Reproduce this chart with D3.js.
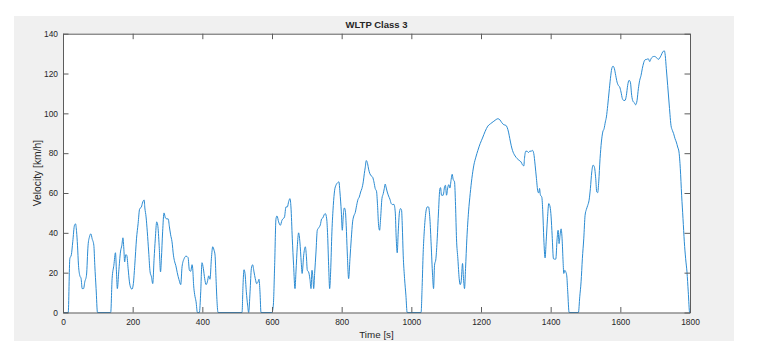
<!DOCTYPE html>
<html>
<head>
<meta charset="utf-8">
<script src="https://cdn.jsdelivr.net/npm/d3@7"></script>
<style>
  html, body { margin: 0; padding: 0; background: #ffffff; }
  svg { display: block; }
  text { font-family: "Liberation Sans", Arial, Helvetica, sans-serif; fill: #262626; }
</style>
</head>
<body>
<svg id="chart" width="775" height="355"></svg>
<script>
const chartTitle = "WLTP Class 3";
const xLabel = "Time [s]";
const yLabel = "Velocity [km/h]";
const xTicks = [0, 200, 400, 600, 800, 1000, 1200, 1400, 1600, 1800];
const yTicks = [0, 20, 40, 60, 80, 100, 120, 140];

const time = [
  0, 15, 19.6, 24, 28, 33, 36, 39, 41.6, 44.5, 48, 52, 55, 59, 62.6, 67.4, 72, 76, 80, 83.7,
  88.5, 91.3, 95, 99, 137, 141, 146, 150.6, 153.5, 156, 160, 165, 169, 172, 174.5, 177, 180, 183, 187, 190.7,
  194.5, 198, 202, 206, 211, 215.6, 220, 225, 229, 233, 235, 238.5, 242, 246, 250, 254, 257.6, 261.5, 265, 269,
  272, 276, 280, 282.5, 286, 290, 294, 298, 302, 305.5, 309, 313, 317, 320.7, 324, 328, 333, 338, 341.8, 347.6,
  353.3, 359, 362.9, 366.7, 370.5, 372.4, 375, 378, 382, 385.8, 391.5, 395.4, 399, 403, 406.8, 410.7, 414.5, 418.3, 422, 426,
  429.8, 433.6, 436.5, 439.3, 442.2, 445, 514, 516.8, 519.6, 522.5, 526.3, 530, 533, 537, 540.7, 544.5, 548.3, 552, 556, 560,
  562.7, 565.5, 568.4, 600, 603.8, 607.6, 611.4, 614.3, 619, 624, 628.6, 636, 640, 644, 648, 651.6, 654.4, 658.3, 662, 666,
  668.8, 672.6, 676.4, 680, 684, 686.5, 691, 695.7, 698.5, 701.4, 705, 709, 712, 714.8, 717.7, 719.6, 722.4, 726.3, 730, 734,
  738.7, 742.5, 746, 750, 753, 757, 759.7, 762.6, 765.5, 768.3, 772, 776, 779.8, 783.6, 788.4, 792, 795, 799, 801.8, 804.7,
  807.5, 810.4, 813, 816, 820, 823.8, 827.6, 831.4, 835, 839, 843, 846.7, 850.6, 854.4, 858, 862, 865, 867.8, 870.6, 874.5,
  877.3, 881, 885, 888.8, 892.6, 896.4, 900, 903, 906, 908.9, 911.7, 915.6, 919.4, 922.3, 925, 928, 930.9, 934.7, 938.5, 942.3,
  946, 950, 953.8, 956.7, 959.5, 962.4, 966, 969, 972, 974, 976.7, 980.6, 984.4, 988, 1028, 1031, 1034, 1037, 1041.8, 1045.6,
  1049.4, 1053.3, 1057, 1061, 1063.8, 1066.6, 1070.5, 1074.3, 1078, 1082, 1083.9, 1086.7, 1091.5, 1095.3, 1098, 1101, 1104.9, 1107.8, 1110.6, 1114.4,
  1117.3, 1120, 1124, 1126.9, 1129.7, 1133.6, 1137.4, 1140.3, 1143, 1147, 1149.8, 1152.7, 1155.6, 1159.4, 1164.2, 1169, 1173.7, 1179.5, 1185.2, 1191,
  1197.6, 1204.3, 1212, 1219.6, 1227.3, 1234.9, 1242.6, 1248.3, 1254, 1259.8, 1265.5, 1271.3, 1275, 1279, 1282.7, 1286.5, 1290.4, 1294, 1298, 1303.7,
  1309.5, 1315, 1319, 1322.9, 1324.8, 1328.6, 1332.4, 1336.2, 1340, 1344, 1347.7, 1351.5, 1355.4, 1359.2, 1363, 1365.9, 1368, 1370.6, 1374.5, 1377.4,
  1380.3, 1384, 1387, 1390.8, 1394.6, 1398.4, 1401.3, 1404.2, 1408, 1410.8, 1414.7, 1418.5, 1421.4, 1424.2, 1427, 1430, 1432.8, 1435.7, 1437.6, 1440.5,
  1443.4, 1446.2, 1449, 1453, 1479.7, 1483.5, 1487.3, 1491, 1495, 1498.8, 1502.6, 1506.4, 1510.3, 1514, 1518, 1521.7, 1525.6, 1529.4, 1532.3, 1535,
  1538, 1541.8, 1545.6, 1549.5, 1553.3, 1557, 1560, 1563.8, 1567.6, 1571.5, 1575.3, 1579, 1583, 1586.8, 1590.6, 1594.4, 1598.2, 1602, 1605.9, 1609.7,
  1613.5, 1617.3, 1621, 1625, 1628.8, 1632.6, 1636.5, 1640, 1644, 1648, 1651.8, 1655.6, 1659.4, 1663, 1667, 1670.9, 1675.7, 1680.4, 1684.3, 1688,
  1692, 1697.6, 1703.4, 1709, 1713, 1716.8, 1721.5, 1726.3, 1729, 1732, 1735.9, 1739.7, 1742.6, 1745.4, 1749.3, 1753, 1757, 1760.7, 1764.6, 1768.4,
  1772.2, 1776, 1779.9, 1783.7, 1787.5, 1791.3, 1795, 1799, 1800
];

const velocity = [
  0, 0, 27, 29, 35.5, 43.8, 44.5, 40.5, 33.8, 23.7, 18.7, 17, 12, 12, 15.4, 18.7, 33.8, 38, 39.5, 37,
  33.8, 23.7, 12, 0, 0, 17, 23.7, 30, 20.4, 12, 20.4, 30.4, 33.8, 37.5, 32.4, 25.4, 29, 28.8, 22, 15.4,
  12.4, 11.7, 14.5, 23.7, 37, 44.6, 52, 53, 55.5, 56.5, 52.5, 48, 40.5, 30.4, 20.4, 17.9, 14.5, 27, 37, 45.5,
  43.8, 33.8, 20.4, 27, 40.5, 50, 47.5, 47, 47, 43, 39, 35.5, 28.8, 25.4, 23.5, 20, 16.5, 14, 23, 27,
  28.3, 27.6, 21.2, 20.7, 24, 22, 13.7, 9, 5.4, 0, 0, 10.4, 25, 22, 17, 14, 15.4, 18.4, 16.7, 27,
  33, 31.3, 28.8, 17, 5.4, 0, 0, 13.7, 21.5, 19.6, 10.4, 3.7, 0, 10.4, 22, 24, 20.4, 17, 14.5, 15.4,
  16.7, 10.4, 0, 0, 3.7, 23.7, 47, 48.5, 45.5, 43.8, 46.3, 48, 53, 53, 55.8, 57.2, 53, 37, 23.7, 12,
  20.4, 33, 40, 35.5, 25, 19.6, 28.8, 33, 28.8, 21.2, 20.4, 16.7, 12, 21.2, 17, 12, 19.6, 30.4, 41.3, 42.5,
  44, 47, 47.5, 49.2, 49.7, 47, 38.8, 23.7, 12, 20.4, 40.5, 53.8, 61.4, 63.9, 65.2, 65.6, 60.5, 50.5, 41.3, 48.8,
  52.5, 51.3, 43.8, 30.4, 17, 27, 37, 45.5, 48.5, 50.2, 53.8, 56.7, 58, 60.5, 62.2, 65.6, 69.7, 73, 76.3, 74.7,
  72, 69.7, 68.6, 68, 65.6, 62.2, 60.9, 53.8, 43.8, 41.3, 47, 57.2, 59.7, 62.2, 64.5, 62.5, 60.5, 58.5, 56.9, 54.7,
  54.2, 54.3, 50.5, 37, 30, 40.5, 50.5, 52.2, 51.3, 43.8, 28.8, 17, 8.7, 0, 0, 13, 30, 40.5, 50.5, 53,
  53, 47, 33.8, 18.7, 12, 23.7, 27, 37, 50.5, 62.2, 62.7, 58.9, 58.9, 63, 63.9, 58.9, 63, 64.2, 62.5, 66.9,
  69.4, 66.9, 65.6, 53.8, 37, 27, 17, 14, 15.4, 24.6, 17, 12, 22, 37, 50.5, 59.7, 67.2, 74, 78, 81.4,
  84.8, 87.6, 91, 93.6, 94.8, 95.8, 96.8, 97.3, 96.8, 95.3, 94.3, 94, 93, 90.6, 87.3, 84, 81.4, 79.8, 78.6, 77.3,
  76.4, 75.6, 74.2, 73.6, 77.3, 81, 81, 80.3, 81, 81, 81.4, 79.8, 74, 67.2, 61, 60, 62.3, 59, 58, 50.5,
  37, 27.4, 35.5, 47, 54.7, 53, 48, 38.8, 27, 26.8, 26.8, 37, 41.3, 34.6, 38.8, 42, 37, 25.4, 19.6, 21.2,
  20.4, 18.4, 10.4, 0, 0, 7.9, 15.4, 27, 37, 48.8, 51.8, 53.8, 56.4, 62.2, 70.6, 74, 73, 67.2, 60.5, 60.2,
  65.6, 77.3, 85.6, 90.6, 92.3, 95.7, 98.2, 104, 110.7, 117.4, 122.4, 123.7, 122.4, 119, 115.7, 114, 113.2, 110.7, 107.4, 106.5,
  106.5, 109, 114, 116.6, 115.7, 109, 106, 105.4, 104.3, 106.5, 112.4, 116.6, 119, 122.4, 125.4, 126.9, 127.1, 127.4, 126, 127.4,
  128.3, 128.6, 128.1, 127.1, 127.8, 129, 130.8, 131.4, 129, 122.4, 114, 105.7, 99.3, 94, 91.5, 89.8, 87.3, 85.6, 83.1, 80.6,
  72.2, 58.9, 47.2, 35.5, 27, 20.4, 10.4, 0, 0
];

const data = time.map((t, i) => ({ t: t, v: velocity[i] }));

const svg = d3.select("#chart");
const W = 775, H = 355;
const plot = { left: 63, right: 690, top: 33.7, bottom: 312.5 };

// figure panel
svg.append("rect").attr("x", 14).attr("y", 16).attr("width", 720).attr("height", 325).attr("fill", "#f0f0f0");
svg.append("rect").attr("x", plot.left).attr("y", plot.top)
  .attr("width", plot.right - plot.left).attr("height", plot.bottom - plot.top).attr("fill", "#ffffff");

const x = d3.scaleLinear().domain([0, 1800]).range([plot.left, plot.right]);
const y = d3.scaleLinear().domain([0, 140]).range([plot.bottom, plot.top]);

const axisColor = "#5c5c5c";
const tickFont = 8.4;

function styleAxis(g) {
  g.selectAll("path.domain").attr("stroke", axisColor).attr("stroke-width", 1);
  g.selectAll(".tick line").attr("stroke", axisColor).attr("stroke-width", 1);
  g.selectAll(".tick text").style("font-size", tickFont + "px").attr("fill", "#262626")
    .style("font-family", '"Liberation Sans", Arial, sans-serif');
}

// line
const line = d3.line().x(d => x(d.t)).y(d => y(d.v)).curve(d3.curveMonotoneX);
svg.append("path").datum(data)
  .attr("d", line)
  .attr("fill", "none")
  .attr("stroke", "#2b8bd2")
  .attr("stroke-width", 1)
  .attr("stroke-linejoin", "round");

// axes
svg.append("g").attr("transform", `translate(0,${plot.bottom})`)
  .call(d3.axisBottom(x).tickValues(xTicks).tickFormat(d3.format("d")).tickSizeInner(-5.5).tickSizeOuter(0).tickPadding(7))
  .call(styleAxis);
svg.append("g").attr("transform", `translate(0,${plot.top})`)
  .call(d3.axisTop(x).tickValues(xTicks).tickFormat("").tickSizeInner(-5.5).tickSizeOuter(0))
  .call(styleAxis);
svg.append("g").attr("transform", `translate(${plot.left},0)`)
  .call(d3.axisLeft(y).tickValues(yTicks).tickFormat(d3.format("d")).tickSizeInner(-5.5).tickSizeOuter(0).tickPadding(5))
  .call(styleAxis);
svg.append("g").attr("transform", `translate(${plot.right},0)`)
  .call(d3.axisRight(y).tickValues(yTicks).tickFormat("").tickSizeInner(-5.5).tickSizeOuter(0))
  .call(styleAxis);

// labels
svg.append("text").attr("x", (plot.left + plot.right) / 2).attr("y", 28.3)
  .attr("text-anchor", "middle").style("font-size", "9.5px").style("font-weight", "bold").text(chartTitle);
svg.append("text").attr("x", (plot.left + plot.right) / 2).attr("y", 338.2)
  .attr("text-anchor", "middle").style("font-size", "9.8px").text(xLabel);
svg.append("text").attr("transform", `translate(41,${(plot.top + plot.bottom) / 2}) rotate(-90)`)
  .attr("text-anchor", "middle").style("font-size", "10.3px").text(yLabel);
</script>
</body>
</html>
